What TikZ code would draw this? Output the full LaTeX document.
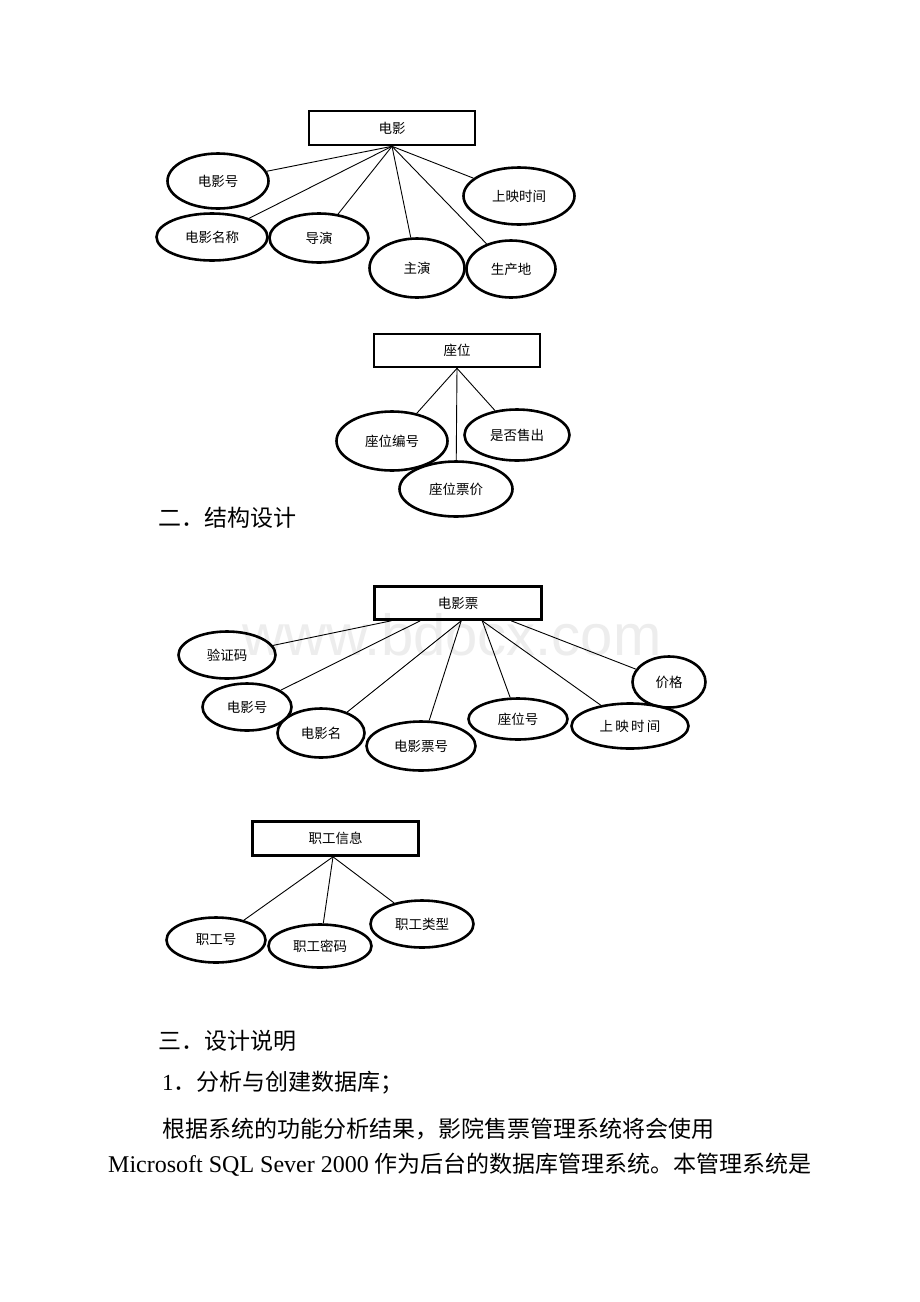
\documentclass[tikz,border=0pt]{standalone}
\usepackage{fontspec}
\setmainfont{Liberation Serif}
\newfontfamily\cjk{Noto Sans CJK SC}
\newfontfamily\wmfont{Liberation Sans}
\usetikzlibrary{shapes.geometric}
\begin{document}
\begin{tikzpicture}[x=1pt,y=-1pt,
 ent/.style={draw, line width=2.6pt, inner sep=0pt, font=\cjk\fontsize{13.5}{13.5}\selectfont},
 attr/.style={ellipse, draw, line width=2.6pt, inner sep=0pt, font=\cjk\fontsize{13.5}{13.5}\selectfont},
 link/.style={line width=0.9pt},
 body/.style={anchor=base west, inner sep=0pt, font=\fontsize{23}{23}\selectfont}]
\useasboundingbox[fill=white] (0,0) rectangle (920,1302);

% watermark
\node[anchor=base, inner sep=0pt, text=black!7, font=\wmfont\fontsize{58}{58}\selectfont] (wm) at (452,655) {www.bdocx.com};

% ---------- 电影 ----------
\node[ent, minimum width=166pt, minimum height=34pt] (m) at (392,128) {电影};
\node[attr, minimum width=101pt, minimum height=55pt] (a1) at (218,181) {电影号};
\node[attr, minimum width=111pt, minimum height=47pt] (a2) at (212,237) {电影名称};
\node[attr, minimum width=99pt, minimum height=49pt] (a3) at (319,238) {导演};
\node[attr, minimum width=95pt, minimum height=59pt] (a4) at (417,268) {主演};
\node[attr, minimum width=89pt, minimum height=57pt] (a5) at (511,269) {生产地};
\node[attr, minimum width=111pt, minimum height=57pt] (a6) at (519,196) {上映时间};
\foreach \a in {a1,a2,a3,a4,a5,a6} \draw[link] (m.south) -- (\a);

% ---------- 座位 ----------
\node[ent, minimum width=166pt, minimum height=33pt] (s) at (457,350.5) {座位};
\node[attr, minimum width=111pt, minimum height=59pt] (b1) at (392,441) {座位编号};
\node[attr, minimum width=105pt, minimum height=51pt] (b2) at (517,435) {是否售出};
\node[attr, minimum width=113pt, minimum height=55pt] (b3) at (456,489) {座位票价};
\foreach \b in {b1,b2,b3} \draw[link] (s.south) -- (\b);

\node[body] (h2) at (158,526) {\cjk 二．结构设计};

% ---------- 电影票 ----------
\node[ent, minimum width=167pt, minimum height=33pt] (t) at (458,603) {电影票};
\coordinate (t1) at ([xshift=18pt]t.south west);
\coordinate (t2) at ([xshift=47pt]t.south west);
\coordinate (t3) at ([xshift=88pt]t.south west);
\coordinate (t4) at ([xshift=109pt]t.south west);
\coordinate (t5) at ([xshift=138pt]t.south west);
\node[attr, minimum width=97pt, minimum height=47pt] (c1) at (227,655) {验证码};
\node[attr, minimum width=89pt, minimum height=47pt] (c2) at (247,707) {电影号};
\node[attr, minimum width=87pt, minimum height=49pt] (c3) at (321,733) {电影名};
\node[attr, minimum width=109pt, minimum height=49pt] (c4) at (421,746) {电影票号};
\node[attr, minimum width=99pt, minimum height=41pt] (c5) at (518,719) {座位号};
\node[attr, minimum width=117pt, minimum height=45pt] (c6) at (630,726) {上\,映\,时\,间};
\node[attr, minimum width=73pt, minimum height=51pt] (c7) at (669,682) {价格};
\draw[link] (t1) -- (c1);
\draw[link] (t2) -- (c2);
\draw[link] (t3) -- (c3);
\draw[link] (t3) -- (c4);
\draw[link] (t4) -- (c5);
\draw[link] (t4) -- (c6);
\draw[link] (t5) -- (c7);

% ---------- 职工信息 ----------
\node[ent, minimum width=166pt, minimum height=34pt] (w) at (335.5,838.5) {职工信息};
\coordinate (wh) at ([xshift=-2.5pt]w.south);
\node[attr, minimum width=99pt, minimum height=45pt] (d1) at (216,940) {职工号};
\node[attr, minimum width=103pt, minimum height=43pt] (d2) at (320,946) {职工密码};
\node[attr, minimum width=103pt, minimum height=47pt] (d3) at (422,924) {职工类型};
\foreach \d in {d1,d2,d3} \draw[link] (wh) -- (\d);

% ---------- text ----------
\node[body] (h3) at (158,1049) {\cjk 三．设计说明};
\node[body] (p1) at (162,1090) {1\cjk ．分析与创建数据库；};
\node[body] (p2) at (162,1137) {\cjk 根据系统的功能分析结果，影院售票管理系统将会使用};
\node[body] (p3) at (108,1172) {\fontsize{24}{24}\selectfont Microsoft SQL Sever 2000 {\cjk\fontsize{23}{23}\selectfont 作为后台的数据库管理系统。本管理系统是}};
\end{tikzpicture}
\end{document}
